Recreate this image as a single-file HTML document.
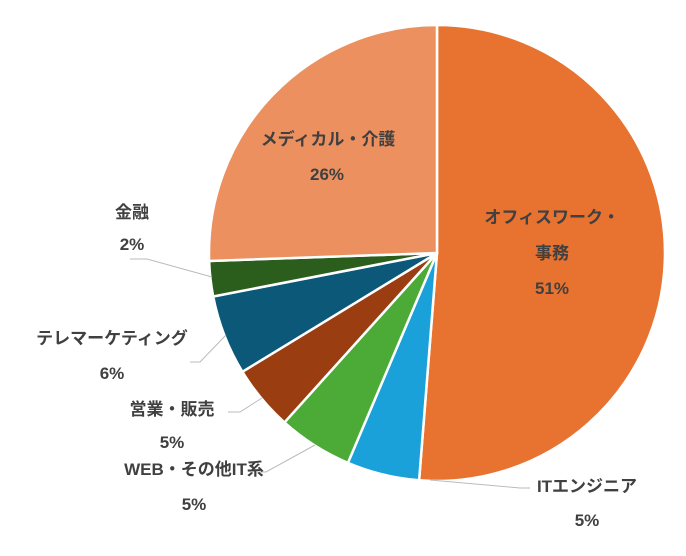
<!DOCTYPE html><html><head><meta charset="utf-8"><style>body{margin:0;background:#fff}svg text{font-family:"Liberation Sans","Noto Sans CJK JP",sans-serif;font-weight:bold;font-size:17px;fill:#404040}</style></head><body>
<svg width="686" height="551" xmlns="http://www.w3.org/2000/svg">
<g id="pie" stroke="#fff" stroke-width="2.5" stroke-linejoin="round"></g>
<g stroke="#bbb" stroke-width="1" fill="none">
<polyline points="130,259 147,259 212,277"/>
<polyline points="190,362 200,362 226,335"/>
<polyline points="228,412 240,412 262,398"/>
<polyline points="257,472 266,472 315,445"/>
<polyline points="430,480 520,488 530,488"/>
</g>
<text x="328" y="145" text-anchor="middle">メディカル・介護</text>
<text x="327" y="180" text-anchor="middle">26%</text>
<text x="552" y="223" text-anchor="middle">オフィスワーク・</text>
<text x="552" y="259" text-anchor="middle">事務</text>
<text x="552" y="294" text-anchor="middle">51%</text>
<text x="132" y="218" text-anchor="middle">金融</text>
<text x="132" y="250" text-anchor="middle">2%</text>
<text x="112" y="344" text-anchor="middle">テレマーケティング</text>
<text x="112" y="379" text-anchor="middle">6%</text>
<text x="172" y="415" text-anchor="middle">営業・販売</text>
<text x="172" y="448" text-anchor="middle">5%</text>
<text x="194" y="475" text-anchor="middle">WEB・その他IT系</text>
<text x="194" y="510" text-anchor="middle">5%</text>
<text x="587" y="492" text-anchor="middle">ITエンジニア</text>
<text x="587" y="526" text-anchor="middle">5%</text>
</svg>
<script>
var cx=437,cy=253,r=228;
var b=[0,184.5,203,222,238.6,259,268,360];
var c=["#E8722F","#1BA1D9","#4CAA36","#9A3E12","#0B5878","#2B5E1C","#EC9060"];
function p(a){a=a*Math.PI/180;return (cx+r*Math.sin(a)).toFixed(2)+","+(cy-r*Math.cos(a)).toFixed(2);}
var g=document.getElementById("pie"),h="";
for(var i=0;i<7;i++){var l=(b[i+1]-b[i])>180?1:0;h+='<path fill="'+c[i]+'" d="M'+cx+','+cy+' L'+p(b[i])+' A'+r+','+r+' 0 '+l+' 1 '+p(b[i+1])+' Z"/>';}
g.innerHTML=h;
</script>
</body></html>
